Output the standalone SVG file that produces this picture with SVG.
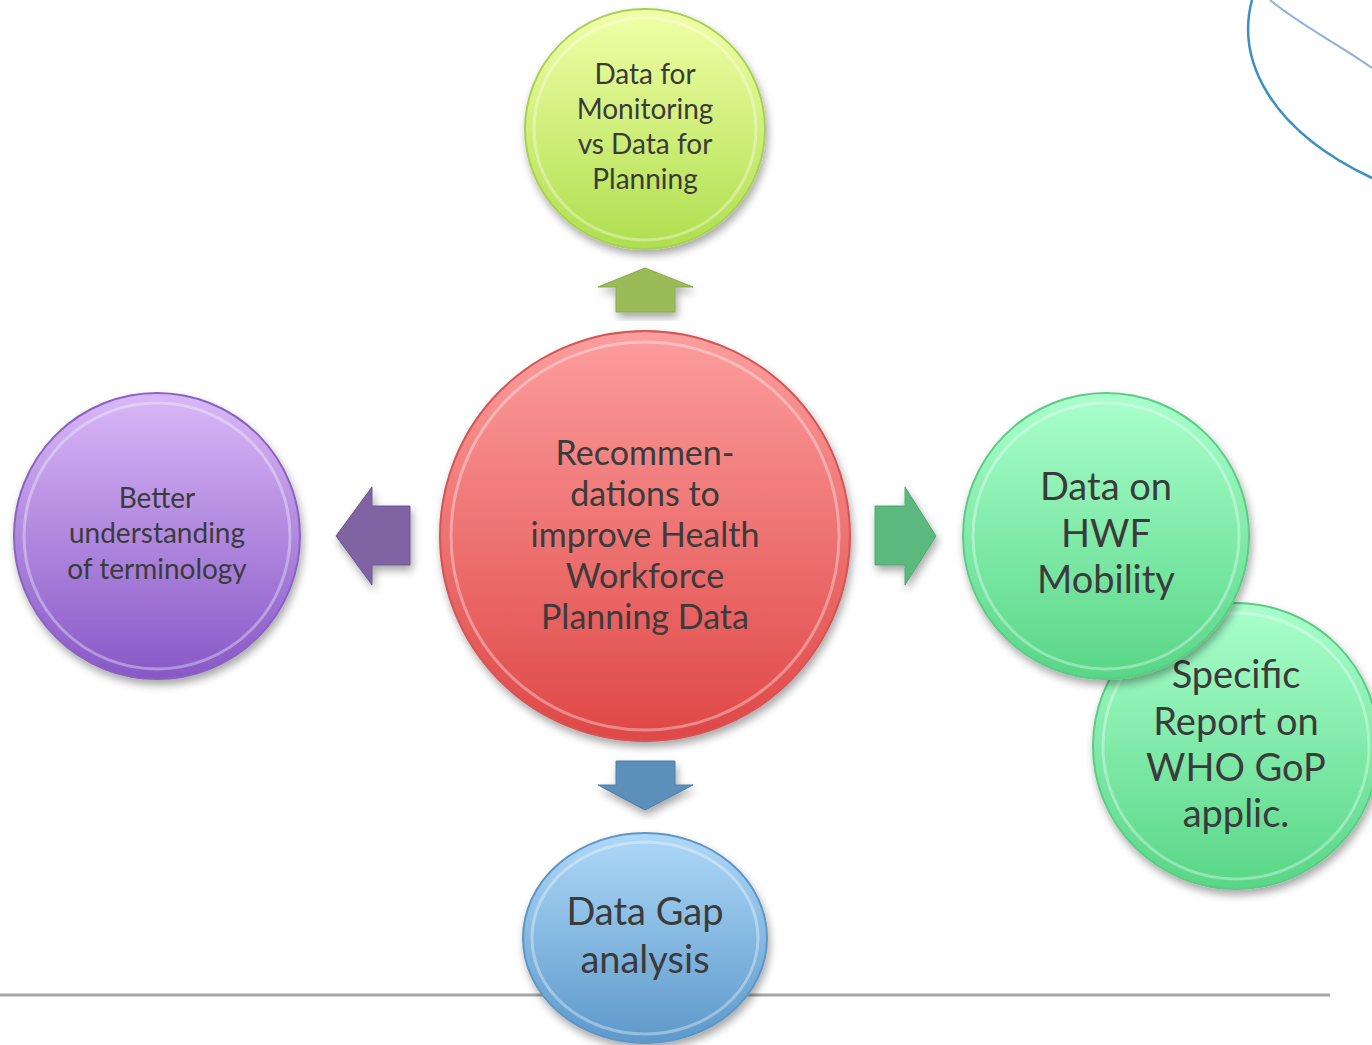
<svg xmlns="http://www.w3.org/2000/svg" width="1372" height="1045" viewBox="0 0 1372 1045">
<defs>
<style>
.t{font-family:Lato,"Open Sans","Liberation Sans",sans-serif;fill:#3b3b3b;text-anchor:middle}
.rim{fill:none;stroke:#ffffff;stroke-opacity:0.35;stroke-width:3}
</style>
<filter id="sh" x="-20%" y="-20%" width="140%" height="140%">
<feGaussianBlur in="SourceAlpha" stdDeviation="4"/>
<feOffset dx="2" dy="5" result="b"/>
<feComponentTransfer><feFuncA type="linear" slope="0.35"/></feComponentTransfer>
<feMerge><feMergeNode/><feMergeNode in="SourceGraphic"/></feMerge>
</filter>
<linearGradient id="gRed" x1="0" y1="0" x2="0" y2="1"><stop offset="0" stop-color="#fc9e9e"/><stop offset="1" stop-color="#df4746"/></linearGradient>
<linearGradient id="gYel" x1="0" y1="0" x2="0" y2="1"><stop offset="0" stop-color="#f2ffa8"/><stop offset="1" stop-color="#aede4e"/></linearGradient>
<linearGradient id="gPur" x1="0" y1="0" x2="0" y2="1"><stop offset="0" stop-color="#d9b8f7"/><stop offset="1" stop-color="#8758c6"/></linearGradient>
<linearGradient id="gGrn" x1="0" y1="0" x2="0" y2="1"><stop offset="0" stop-color="#aaffcc"/><stop offset="1" stop-color="#58d687"/></linearGradient>
<linearGradient id="gBlu" x1="0" y1="0" x2="0" y2="1"><stop offset="0" stop-color="#aed8f7"/><stop offset="1" stop-color="#5d99cb"/></linearGradient>
</defs>
<rect width="1372" height="1045" fill="#ffffff"/>
<g id="decor">
<path d="M1252 0 C1236 60 1270 130 1372 178" fill="none" stroke="#3a8fc9" stroke-width="2.5"/>
<path d="M1270 0 C1300 25 1340 45 1372 68" fill="none" stroke="#8fb0d4" stroke-width="2"/>
<line x1="0" y1="995" x2="1330" y2="995" stroke="#a6a6a6" stroke-width="3"/>
</g>
<g id="connectors">
<polygon points="645,268 693,287 675,287 675,312 616,312 616,287 598,287" fill="#9bbb59" stroke="#86a84a" stroke-width="1" filter="url(#sh)"/>
<polygon points="336,536 372,487 372,506 410,506 410,565 372,565 372,585" fill="#8064a2" stroke="#6f5590" stroke-width="1" filter="url(#sh)"/>
<polygon points="936,536 905,487 905,506 875,506 875,565 905,565 905,585" fill="#5cb97e" stroke="#4ea56f" stroke-width="1" filter="url(#sh)"/>
<polygon points="645,810 693,785 675,785 675,761 616,761 616,785 598,785" fill="#5b8fba" stroke="#4c7ca6" stroke-width="1" filter="url(#sh)"/>
</g>
<g id="n-center">
<circle cx="645" cy="536" r="205" fill="url(#gRed)" stroke="#d45454" stroke-width="2" filter="url(#sh)"/>
<circle cx="645" cy="536" r="194" class="rim"/>
<text class="t" font-size="34"><tspan x="645" y="465">Recommen-</tspan><tspan x="645" y="506">dations to</tspan><tspan x="645" y="547">improve Health</tspan><tspan x="645" y="588">Workforce</tspan><tspan x="645" y="629">Planning Data</tspan></text>
</g>
<g id="n-top">
<circle cx="645" cy="129" r="120" fill="url(#gYel)" stroke="#a9cf55" stroke-width="2" filter="url(#sh)"/>
<circle cx="645" cy="129" r="111" class="rim"/>
<text class="t" font-size="28"><tspan x="645" y="84">Data for</tspan><tspan x="645" y="119">Monitoring</tspan><tspan x="645" y="154">vs Data for</tspan><tspan x="645" y="189">Planning</tspan></text>
</g>
<g id="n-left">
<circle cx="157" cy="536" r="143" fill="url(#gPur)" stroke="#8a62c0" stroke-width="2" filter="url(#sh)"/>
<circle cx="157" cy="536" r="133" class="rim"/>
<text class="t" font-size="28"><tspan x="157" y="508">Better</tspan><tspan x="157" y="543">understanding</tspan><tspan x="157" y="579">of terminology</tspan></text>
</g>
<g id="n-report">
<circle cx="1236" cy="746" r="143" fill="url(#gGrn)" stroke="#5ccb86" stroke-width="2" filter="url(#sh)"/>
<circle cx="1236" cy="746" r="133" class="rim"/>
<text class="t" font-size="38"><tspan x="1236" y="688">Specific</tspan><tspan x="1236" y="735">Report on</tspan><tspan x="1236" y="781">WHO GoP</tspan><tspan x="1236" y="827">applic.</tspan></text>
</g>
<g id="n-right">
<circle cx="1106" cy="536" r="143" fill="url(#gGrn)" stroke="#5ccb86" stroke-width="2" filter="url(#sh)"/>
<circle cx="1106" cy="536" r="133" class="rim"/>
<text class="t" font-size="38"><tspan x="1106" y="500">Data on</tspan><tspan x="1106" y="547">HWF</tspan><tspan x="1106" y="593">Mobility</tspan></text>
</g>
<g id="n-bottom">
<ellipse cx="645" cy="938" rx="122" ry="105" fill="url(#gBlu)" stroke="#5e95c4" stroke-width="2" filter="url(#sh)"/>
<ellipse cx="645" cy="938" rx="113" ry="96" class="rim"/>
<text class="t" font-size="38"><tspan x="645" y="925">Data Gap</tspan><tspan x="645" y="973">analysis</tspan></text>
</g>
</svg>
